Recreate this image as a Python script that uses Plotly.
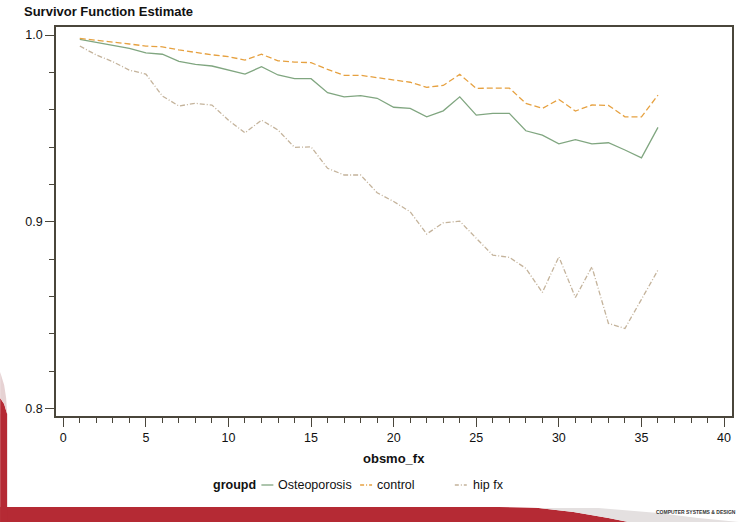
import plotly.graph_objects as go

# Months since observation start
months = list(range(1, 37))

# Kaplan-Meier survivor estimates per group
osteoporosis = [0.9977, 0.9962, 0.9946, 0.9929, 0.9904, 0.9897, 0.9859, 0.9843, 0.9834, 0.9812,
                0.9791, 0.9830, 0.9786, 0.9766, 0.9766, 0.9691, 0.9669, 0.9675, 0.9661, 0.9613,
                0.9607, 0.9562, 0.9594, 0.9669, 0.9571, 0.9580, 0.9580, 0.9487, 0.9464, 0.9417,
                0.9439, 0.9417, 0.9423, 0.9384, 0.9342, 0.9505]
control = [0.9982, 0.9973, 0.9962, 0.9952, 0.9941, 0.9937, 0.9920, 0.9905, 0.9894, 0.9884,
           0.9866, 0.9897, 0.9862, 0.9855, 0.9852, 0.9816, 0.9784, 0.9784, 0.9773, 0.9759,
           0.9747, 0.9720, 0.9730, 0.9789, 0.9714, 0.9716, 0.9716, 0.9634, 0.9607, 0.9655,
           0.9593, 0.9625, 0.9623, 0.9562, 0.9562, 0.9678]
hip_fx = [0.9941, 0.9893, 0.9857, 0.9812, 0.9791, 0.9673, 0.9620, 0.9634, 0.9625, 0.9544,
          0.9476, 0.9544, 0.9491, 0.9398, 0.9401, 0.9286, 0.9250, 0.9250, 0.9155, 0.9108,
          0.9053, 0.8934, 0.8994, 0.9003, 0.8911, 0.8821, 0.8809, 0.8750, 0.8621, 0.8812,
          0.8594, 0.8758, 0.8455, 0.8428, 0.8584, 0.8741]

group_names = ["Osteoporosis", "control", "hip fx"]
legend_title = "groupd"

W, H = 741, 522
L, R, T, B = 56, 734, 27, 416
FONT = "Liberation Sans, Arial, sans-serif"
FRAME = "#4a463b"

GREEN, ORANGE, TAN = "#80a680", "#e6a140", "#c4b39b"
styles = [
    dict(color=GREEN, width=1.3, dash="solid"),
    dict(color=ORANGE, width=1.3, dash="6px,3px"),
    dict(color=TAN, width=1.3, dash="5px,2px,1px,2px"),
]


def px_x(px):
    return (px - L) / (R - L)


def px_y(py):
    return (B - py) / (B - T)


fig = go.Figure()
for name, ys, st in zip(group_names, [osteoporosis, control, hip_fx], styles):
    fig.add_trace(go.Scatter(x=months, y=ys, mode="lines", name=name,
                             line=st, showlegend=False))

axis_common = dict(
    showline=True, linecolor=FRAME, linewidth=1.5, mirror=True,
    showgrid=False, zeroline=False,
    ticks="outside", ticklen=9, tickwidth=1.2, tickcolor=FRAME,
    tickfont=dict(family=FONT, size=12.5, color="#111111"),
)

fig.update_xaxes(range=[-0.44, 40.48], tickmode="linear", tick0=0, dtick=5,
                 minor=dict(dtick=1, ticks="outside", ticklen=5, tickwidth=1.2,
                            tickcolor=FRAME, showgrid=False),
                 **axis_common)
fig.update_yaxes(range=[0.7959, 1.0043], tickmode="linear", tick0=0.8, dtick=0.1,
                 tickformat=".1f",
                 minor=dict(dtick=0.02, ticks="outside", ticklen=5, tickwidth=1.2,
                            tickcolor=FRAME, showgrid=False),
                 **axis_common)

annotations = [
    dict(text="<b>obsmo_fx</b>", x=0.5, y=px_y(458), xref="paper", yref="paper",
         xanchor="center", yanchor="middle", showarrow=False,
         font=dict(family=FONT, size=13, color="#111111")),
    dict(text="<b>" + legend_title + "</b>", x=px_x(211), y=px_y(485), xref="paper", yref="paper",
         xanchor="left", yanchor="middle", showarrow=False,
         font=dict(family=FONT, size=12.5, color="#111111")),
]

shapes = []
# legend keys: short line sample followed by the group label
legend_pos = [(262, 274, 277), (361, 373, 376), (456, 468, 472)]
for name, st, (x0, x1, xt) in zip(group_names, styles, legend_pos):
    shapes.append(dict(type="line", xref="paper", yref="paper",
                       x0=px_x(x0), x1=px_x(x1), y0=px_y(485), y1=px_y(485),
                       line=dict(color=st["color"], width=1.3,
                                 dash="4px,2px,1px,2px" if st["dash"] != "solid" else "solid")))
    annotations.append(dict(text=name, x=px_x(xt), y=px_y(485), xref="paper", yref="paper",
                            xanchor="left", yanchor="middle", showarrow=False,
                            font=dict(family=FONT, size=12.5, color="#111111")))

# slide backdrop: red band along the bottom and a thin strip on the left
RED = "#b52a34"


def pth(points):
    s = "M " + " L ".join(f"{px_x(a):.5f},{px_y(b):.5f}" for a, b in points) + " Z"
    return s


shapes.append(dict(type="path", xref="paper", yref="paper", layer="below",
                   path=pth([(0, 507), (500, 507), (540, 508), (575, 512), (610, 518),
                             (630, 522), (0, 522)]),
                   fillcolor=RED, line=dict(width=0)))
shapes.append(dict(type="path", xref="paper", yref="paper", layer="below",
                   path=pth([(540, 508), (600, 508), (660, 513), (700, 518), (741, 522),
                             (630, 522), (610, 518), (575, 512)]),
                   fillcolor="#e4e0e0", line=dict(width=0)))
shapes.append(dict(type="path", xref="paper", yref="paper", layer="below",
                   path=pth([(0, 398), (4, 404), (7, 414), (7, 522), (0, 522)]),
                   fillcolor=RED, line=dict(width=0)))
shapes.append(dict(type="path", xref="paper", yref="paper", layer="below",
                   path=pth([(0, 372), (4, 385), (6, 398), (7, 414), (4, 404), (0, 398)]),
                   fillcolor="#e6d2d3", line=dict(width=0)))

annotations.append(dict(text="<b>COMPUTER SYSTEMS & DESIGN</b>", x=px_x(740), y=px_y(512),
                        xref="paper", yref="paper", xanchor="right", yanchor="middle",
                        showarrow=False, font=dict(family=FONT, size=5, color="#333333")))

fig.update_layout(
    width=W, height=H,
    margin=dict(l=L, r=W - R, t=T, b=H - B, pad=0),
    paper_bgcolor="white", plot_bgcolor="white",
    title=dict(text="<b>Survivor Function Estimate</b>", xref="container", yref="container",
               x=24 / W, y=1 - 11 / H, xanchor="left", yanchor="middle",
               font=dict(family=FONT, size=13, color="#111111")),
    annotations=annotations,
    shapes=shapes,
)

fig.write_html("out.html")
